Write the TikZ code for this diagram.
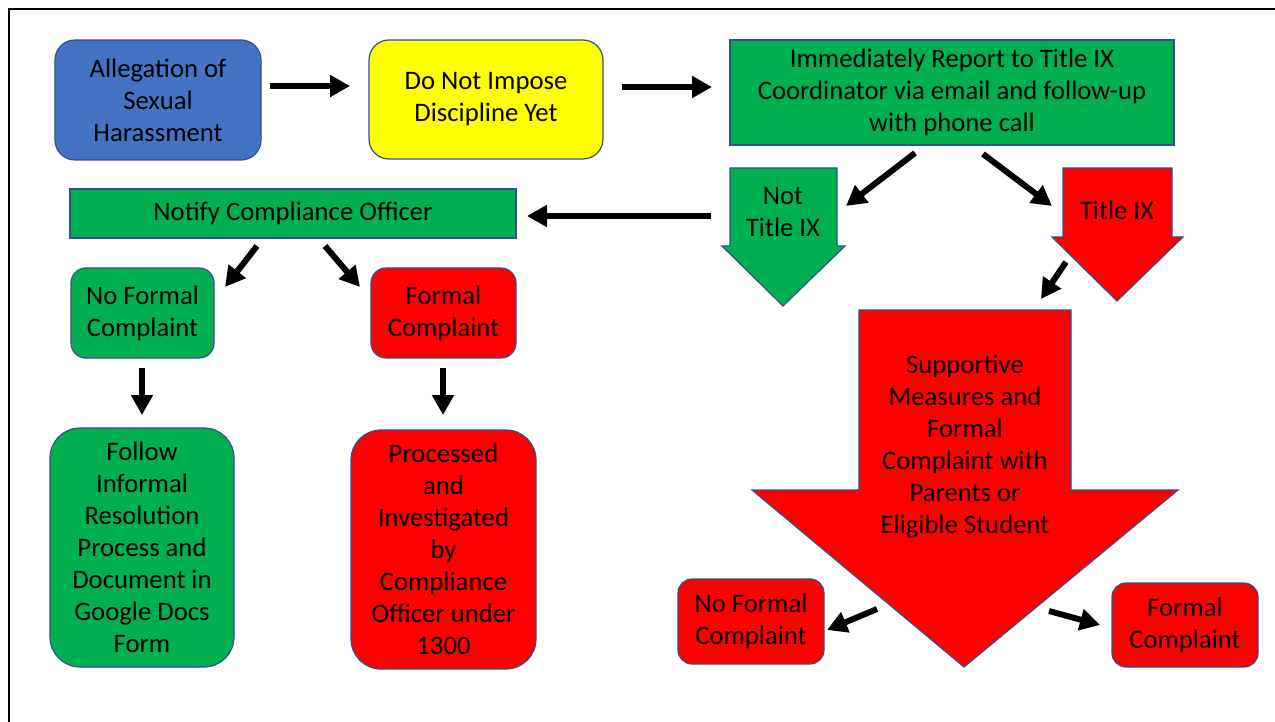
\documentclass[tikz,border=0pt]{standalone}
\usepackage{fontspec}
\setmainfont{Carlito}
\usetikzlibrary{arrows.meta}
\definecolor{pblue}{HTML}{4472C4}
\definecolor{pyellow}{HTML}{FFFF00}
\definecolor{pgreen}{HTML}{00B050}
\definecolor{pred}{HTML}{FF0000}
\definecolor{pedge}{HTML}{2F528F}
\begin{document}
\begin{tikzpicture}[x=1pt,y=-1pt,
  box/.style={draw=pedge,line width=1.2pt,inner sep=0pt,align=center,font=\fontsize{26.7}{32}\selectfont},
  rbox/.style={box,rounded corners=#1},
  conn/.style={line width=6pt,-{Triangle[length=20pt,width=21pt]}},
  blk/.style={draw=pedge,line width=1.2pt},
  lbl/.style={align=center,font=\fontsize{26.7}{32}\selectfont,inner sep=0pt}]
\useasboundingbox (0,0) rectangle (1275,722);
\fill[white] (0,0) rectangle (1275,722);
\draw[line width=2.2pt] (9,722) -- (9,9) -- (1275,9);

% boxes
\node[rbox=20pt,fill=pblue,minimum width=206pt,minimum height=120pt] (alleg) at (158,100) {Allegation of\\Sexual\\Harassment};
\node[rbox=20pt,fill=pyellow,minimum width=234pt,minimum height=119pt] (nodisc) at (486,99.5) {Do Not Impose\\Discipline Yet};
\node[box,fill=pgreen,minimum width=444pt,minimum height=105pt] (report) at (952,92.5) {Immediately Report to Title IX\\Coordinator via email and follow-up\\with phone call};
\node[box,fill=pgreen,minimum width=446pt,minimum height=49pt] (notify) at (293,213.5) {Notify Compliance Officer};
\node[rbox=15pt,fill=pgreen,minimum width=143pt,minimum height=90pt] (nfc1) at (142.5,313) {No Formal\\Complaint};
\node[rbox=15pt,fill=pred,minimum width=145pt,minimum height=90pt] (fc1) at (443.5,313) {Formal\\Complaint};
\node[rbox=30pt,fill=pgreen,minimum width=184pt,minimum height=239pt] (follow) at (142,547.5) {Follow\\Informal\\Resolution\\Process and\\Document in\\Google Docs\\Form};
\node[rbox=30pt,fill=pred,minimum width=185pt,minimum height=239pt] (proc) at (443.5,549.5) {Processed\\and\\Investigated\\by\\Compliance\\Officer under\\1300};
\node[rbox=14pt,fill=pred,minimum width=146pt,minimum height=85pt] (nfc2) at (751,621.5) {No Formal\\Complaint};
\node[rbox=14pt,fill=pred,minimum width=146pt,minimum height=84pt] (fc2) at (1185,625) {Formal\\Complaint};

% block arrows
\draw[blk,fill=pgreen] (730,168) -- (837,168) -- (837,246) -- (845,246) -- (783,306) -- (722,246) -- (730,246) -- cycle;
\node[lbl] (notix) at (783,212) {Not\\Title IX};
\draw[blk,fill=pred] (1063,168) -- (1172,168) -- (1172,237) -- (1183,237) -- (1117,301) -- (1052,237) -- (1063,237) -- cycle;
\node[lbl] (tix) at (1117,210) {Title IX};
\draw[blk,fill=pred] (859,310) -- (1071,310) -- (1071,490) -- (1178,490) -- (964,667) -- (752,490) -- (859,490) -- cycle;
\node[lbl] (supp) at (965,447) {Supportive\\Measures and\\Formal\\Complaint with\\Parents or\\Eligible Student};

% connector end points
\coordinate (a1s) at (270,86);   \coordinate (a1e) at (350,86);
\coordinate (a2s) at (622,87);   \coordinate (a2e) at (712,87);
\coordinate (a3s) at (915,153);  \coordinate (a3e) at (846,206);
\coordinate (a4s) at (983,154);  \coordinate (a4e) at (1052,206);
\coordinate (a5s) at (711,216);  \coordinate (a5e) at (527,216);
\coordinate (a6s) at (1066,262); \coordinate (a6e) at (1041,299);
\coordinate (a7s) at (257,246);  \coordinate (a7e) at (225,287);
\coordinate (a8s) at (325,246);  \coordinate (a8e) at (360,287);
\coordinate (a9s) at (142,368);  \coordinate (a9e) at (142,415);
\coordinate (a10s) at (443,368); \coordinate (a10e) at (443,415);
\coordinate (a11s) at (877,609); \coordinate (a11e) at (827,630);
\coordinate (a12s) at (1049,611);\coordinate (a12e) at (1100,625);

\foreach \i in {1,...,12} {\draw[conn] (a\i s) -- (a\i e);}
\end{tikzpicture}
\end{document}
